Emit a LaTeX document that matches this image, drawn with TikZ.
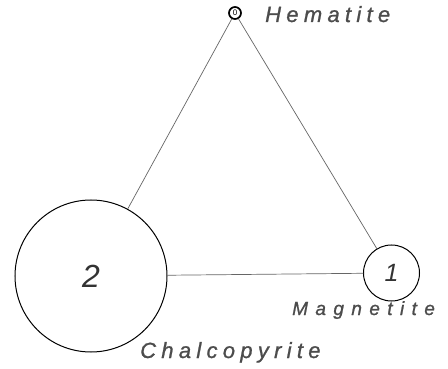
\documentclass[tikz,border=0pt]{standalone}
\usepackage{fontspec}
\setmainfont{Liberation Sans}
\begin{document}
\begin{tikzpicture}[x=1pt, y=-1pt, line cap=round,
  mineral/.style={circle, draw, line width=1pt, inner sep=0pt},
  tie/.style={draw=black!60, line width=0.7pt},
  mname/.style={anchor=base west, inner sep=0pt, text=black!70}]
  \useasboundingbox[fill=white] (0,0) rectangle (448,369);
  % los minerales
  \node[mineral, minimum size=12pt, line width=1.7pt, font=\fontsize{8}{8}\selectfont] (hem) at (235,13) {0};
  \node[mineral, minimum size=152pt, font=\fontsize{32}{32}\selectfont\itshape, text=black!80] (chal) at (91,276) {2};
  \node[mineral, minimum size=56pt, font=\fontsize{25}{25}\selectfont\itshape, text=black!80] (mag) at (391.5,273) {1};
  % las uniones
  \draw[tie] (hem) -- (chal);
  \draw[tie] (hem) -- (mag);
  \draw[tie] (chal) -- (mag);
  % los nombres
  \node[mname, font=\fontsize{22}{22}\selectfont\itshape\addfontfeature{LetterSpace=24,FakeBold=1}] (hemname) at (265,22) {Hematite};
  \node[mname, font=\fontsize{19}{19}\selectfont\itshape\addfontfeature{LetterSpace=39,FakeBold=1}] (magname) at (292,315) {Magnetite};
  \node[mname, font=\fontsize{22}{22}\selectfont\itshape\addfontfeature{LetterSpace=24,FakeBold=1}] (chalname) at (140,358) {Chalcopyrite};
\end{tikzpicture}
\end{document}
